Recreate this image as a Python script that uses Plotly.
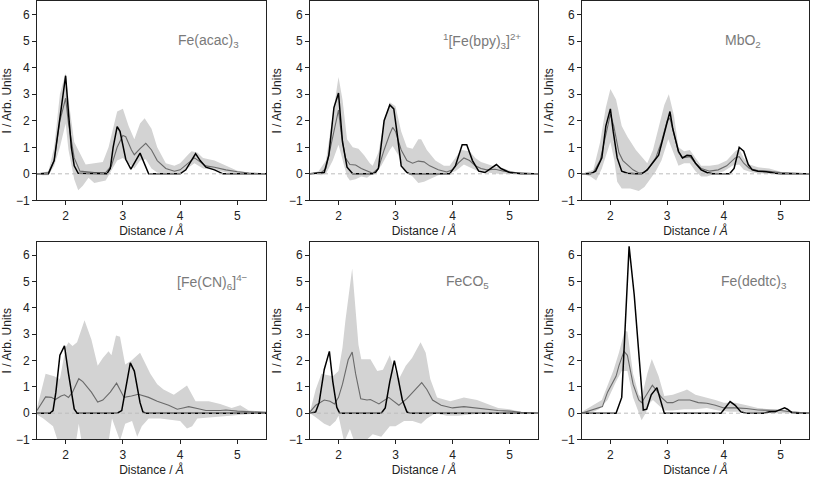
import plotly.graph_objects as go

# ---------------- data ----------------
names = ["Fe(acac)<sub>3</sub>", "<sup>1</sup>[Fe(bpy)<sub>3</sub>]<sup>2+</sup>", "MbO<sub>2</sub>",
         "[Fe(CN)<sub>6</sub>]<sup>4\u2212</sup>", "FeCO<sub>5</sub>", "Fe(dedtc)<sub>3</sub>"]
label_x = [4.5, 4.52, 4.33, 4.57, 4.27, 4.53]

# Panel 1: Fe(acac)3
p1_true_x = [1.5, 1.7, 1.8, 1.9, 2.0, 2.05, 2.1, 2.15, 2.22, 2.72, 2.78, 2.83, 2.9, 2.95, 3.05, 3.14, 3.3, 3.45, 4.0, 4.1, 4.27, 4.35, 4.45, 4.6, 4.75, 5.5]
p1_true_y = [0, 0, 0.5, 2.2, 3.7, 2.3, 1.0, 0.3, 0.02, 0, 0.2, 1.0, 1.78, 1.6, 0.55, 0.18, 0.78, 0, 0, 0.15, 0.76, 0.5, 0.25, 0.15, 0, 0]
p1_mean_x = [1.5, 1.7, 1.8, 1.9, 2.0, 2.05, 2.15, 2.25, 2.5, 2.7, 2.8, 2.9, 3.0, 3.05, 3.15, 3.2, 3.3, 3.4, 3.5, 3.6, 3.75, 3.9, 4.0, 4.15, 4.25, 4.35, 4.45, 4.6, 4.8, 5.0, 5.2, 5.5]
p1_mean_y = [0, 0.05, 0.5, 2.0, 2.85, 1.9, 0.6, 0.1, 0.05, 0.05, 0.3, 1.0, 1.45, 1.4, 0.9, 0.72, 0.95, 1.15, 0.9, 0.5, 0.2, 0.1, 0.15, 0.4, 0.6, 0.45, 0.3, 0.25, 0.15, 0.08, 0.03, 0]
p1_hi_x = [1.5, 1.7, 1.8, 1.9, 2.0, 2.05, 2.15, 2.35, 2.5, 2.65, 2.75, 2.9, 3.0, 3.1, 3.2, 3.3, 3.38, 3.5, 3.6, 3.75, 3.9, 4.0, 4.15, 4.2, 4.3, 4.4, 4.6, 4.8, 5.0, 5.2, 5.5]
p1_hi_y = [0, 0.1, 1.0, 3.0, 3.8, 2.8, 1.2, 0.35, 0.4, 0.45, 1.0, 2.35, 2.45, 1.8, 1.3, 1.9, 2.1, 1.7, 1.0, 0.4, 0.3, 0.4, 0.75, 0.85, 0.8, 0.6, 0.5, 0.3, 0.12, 0.05, 0]
p1_lo_x = [1.5, 1.6, 1.7, 1.8, 1.9, 2.0, 2.05, 2.15, 2.22, 2.3, 2.4, 2.5, 2.6, 2.7, 2.8, 2.9, 3.0, 3.1, 3.2, 3.3, 3.4, 3.5, 3.6, 3.75, 4.0, 4.15, 4.25, 4.4, 4.6, 4.8, 5.0, 5.5]
p1_lo_y = [0, -0.05, -0.05, 0.3, 1.0, 1.9, 0.9, -0.2, -0.62, -0.45, -0.15, -0.35, -0.3, -0.25, 0.1, 0.5, 0.6, 0.4, 0.2, 0.5, 0.55, 0.2, 0.05, 0, 0, 0.25, 0.4, 0.2, 0.15, 0.05, 0, 0]

# Panel 2: 1[Fe(bpy)3]2+
p2_true_x = [1.5, 1.75, 1.83, 1.92, 2.0, 2.07, 2.15, 2.25, 2.6, 2.65, 2.7, 2.8, 2.9, 2.97, 3.03, 3.1, 3.2, 3.25, 3.95, 4.05, 4.17, 4.25, 4.35, 4.46, 4.57, 4.77, 4.85, 5.0, 5.2, 5.5]
p2_true_y = [0, 0.05, 0.7, 2.5, 3.05, 1.2, 0.25, 0, 0, 0.05, 0.2, 2.0, 2.6, 2.45, 1.5, 0.3, 0.05, 0, 0, 0.3, 1.1, 1.1, 0.5, 0.1, 0.05, 0.35, 0.2, 0.05, 0, 0]
p2_mean_x = [1.5, 1.7, 1.78, 1.88, 2.0, 2.05, 2.12, 2.2, 2.3, 2.4, 2.5, 2.6, 2.7, 2.8, 2.9, 2.95, 3.0, 3.1, 3.2, 3.3, 3.4, 3.5, 3.6, 3.75, 3.9, 4.0, 4.1, 4.2, 4.3, 4.4, 4.5, 4.6, 4.75, 4.9, 5.1, 5.5]
p2_mean_y = [0, 0.05, 0.2, 1.2, 2.4, 1.5, 0.6, 0.35, 0.33, 0.2, 0.1, 0.02, 0.2, 0.9, 1.5, 1.75, 1.6, 0.9, 0.5, 0.4, 0.48, 0.45, 0.3, 0.15, 0.07, 0.15, 0.4, 0.6, 0.5, 0.3, 0.2, 0.15, 0.17, 0.1, 0.05, 0]
p2_hi_x = [1.5, 1.65, 1.78, 1.88, 2.0, 2.07, 2.15, 2.25, 2.35, 2.45, 2.55, 2.6, 2.7, 2.8, 2.9, 3.0, 3.1, 3.2, 3.3, 3.4, 3.45, 3.55, 3.7, 3.85, 3.95, 4.05, 4.15, 4.3, 4.4, 4.5, 4.7, 4.9, 5.1, 5.3, 5.5]
p2_hi_y = [0, 0.1, 0.5, 2.0, 3.65, 2.8, 1.3, 1.0, 0.95, 0.7, 0.4, 0.3, 0.8, 2.0, 2.7, 2.55, 1.6, 1.0, 0.95, 1.3, 1.3, 0.9, 0.5, 0.3, 0.3, 0.6, 0.9, 0.85, 0.6, 0.45, 0.3, 0.2, 0.05, 0, 0]
p2_lo_x = [1.5, 1.7, 1.78, 1.9, 2.0, 2.07, 2.15, 2.2, 2.3, 2.4, 2.5, 2.6, 2.75, 2.9, 2.95, 3.05, 3.15, 3.3, 3.4, 3.5, 3.6, 3.75, 3.9, 4.05, 4.2, 4.3, 4.45, 4.6, 4.8, 5.5]
p2_lo_y = [0, -0.05, 0, 0.5, 1.1, 0.5, -0.1, -0.25, -0.2, -0.1, -0.15, 0, 0.3, 0.9, 1.05, 0.7, 0.1, -0.1, -0.35, -0.3, -0.2, -0.05, 0, 0.1, 0.35, 0.25, 0.1, 0.05, 0, 0]

# Panel 3: MbO2
p3_true_x = [1.5, 1.65, 1.74, 1.85, 1.92, 2.0, 2.05, 2.12, 2.2, 2.3, 2.45, 2.55, 2.65, 2.77, 2.85, 3.05, 3.1, 3.2, 3.27, 3.35, 3.42, 3.5, 3.6, 3.7, 3.8, 4.1, 4.18, 4.27, 4.35, 4.43, 4.5, 4.6, 4.75, 4.9, 5.0, 5.5]
p3_true_y = [0, 0, 0.1, 0.6, 1.8, 2.45, 1.6, 0.6, 0.1, 0.02, 0, 0, 0.15, 0.5, 0.7, 2.35, 1.7, 0.85, 0.6, 0.7, 0.68, 0.4, 0.15, 0.05, 0, 0, 0.2, 1.0, 0.85, 0.35, 0.15, 0.1, 0.08, 0.02, 0, 0]
p3_mean_x = [1.5, 1.7, 1.82, 1.92, 2.0, 2.06, 2.15, 2.22, 2.3, 2.4, 2.5, 2.6, 2.7, 2.8, 2.9, 3.0, 3.05, 3.12, 3.2, 3.27, 3.4, 3.5, 3.6, 3.75, 3.9, 4.05, 4.2, 4.27, 4.35, 4.45, 4.6, 4.75, 5.0, 5.5]
p3_mean_y = [0, 0.05, 0.5, 1.5, 2.25, 1.8, 0.8, 0.5, 0.35, 0.15, 0.03, 0.05, 0.3, 0.6, 1.2, 2.0, 2.1, 1.5, 0.8, 0.6, 0.65, 0.4, 0.2, 0.1, 0.15, 0.3, 0.6, 0.65, 0.4, 0.2, 0.12, 0.1, 0.05, 0]
p3_hi_x = [1.5, 1.7, 1.82, 1.92, 2.0, 2.1, 2.2, 2.3, 2.45, 2.6, 2.65, 2.75, 2.85, 2.95, 3.03, 3.12, 3.2, 3.3, 3.4, 3.5, 3.6, 3.75, 3.9, 4.05, 4.2, 4.27, 4.35, 4.45, 4.6, 4.8, 5.0, 5.3, 5.5]
p3_hi_y = [0, 0.15, 1.2, 2.5, 3.2, 2.8, 1.8, 1.4, 0.9, 0.5, 0.4, 0.9, 1.8, 2.6, 3.0, 2.2, 1.0, 0.85, 0.9, 0.6, 0.3, 0.3, 0.35, 0.5, 0.85, 0.95, 0.6, 0.35, 0.25, 0.2, 0.08, 0, 0]
p3_lo_x = [1.5, 1.65, 1.75, 1.85, 2.0, 2.07, 2.12, 2.2, 2.35, 2.5, 2.6, 2.7, 2.8, 2.9, 3.02, 3.1, 3.2, 3.3, 3.4, 3.5, 3.6, 3.7, 3.85, 4.0, 4.15, 4.27, 4.35, 4.5, 4.7, 5.5]
p3_lo_y = [0, -0.1, -0.25, 0.2, 1.2, 0.5, -0.3, -0.55, -0.55, -0.65, -0.5, -0.2, 0.1, 0.5, 1.3, 0.9, 0.3, 0.4, 0.4, 0.1, -0.1, -0.1, 0, 0.1, 0.3, 0.35, 0.15, 0.05, 0, 0]

# Panel 4: [Fe(CN)6]4-
p4_true_x = [1.5, 1.73, 1.78, 1.83, 1.9, 1.98, 2.05, 2.15, 2.2, 2.9, 2.98, 3.05, 3.13, 3.2, 3.3, 3.35, 3.4, 5.5]
p4_true_y = [0, 0, 0.1, 0.8, 2.2, 2.56, 1.5, 0.16, 0, 0, 0.1, 1.0, 1.91, 1.6, 0.4, 0.05, 0, 0]
p4_mean_x = [1.5, 1.65, 1.75, 1.82, 1.92, 1.98, 2.05, 2.12, 2.23, 2.3, 2.45, 2.56, 2.65, 2.78, 2.89, 3.02, 3.15, 3.27, 3.45, 3.6, 3.8, 3.95, 4.05, 4.15, 4.3, 4.45, 4.7, 4.8, 5.0, 5.2, 5.5]
p4_mean_y = [0.1, 0.62, 0.6, 0.52, 0.65, 0.7, 0.6, 0.8, 1.31, 1.2, 0.8, 0.42, 0.5, 0.8, 1.14, 0.6, 0.65, 0.72, 0.6, 0.45, 0.3, 0.15, 0.2, 0.25, 0.18, 0.1, 0.1, 0.12, 0.08, 0.06, 0.03]
p4_hi_x = [1.5, 1.65, 1.8, 1.9, 2.0, 2.05, 2.12, 2.2, 2.33, 2.45, 2.56, 2.65, 2.75, 2.8, 2.88, 2.95, 3.04, 3.15, 3.3, 3.48, 3.6, 3.71, 3.89, 4.12, 4.27, 4.5, 4.7, 4.9, 5.05, 5.2, 5.5]
p4_hi_y = [0.2, 1.5, 1.4, 1.3, 2.5, 2.7, 2.55, 2.7, 3.53, 2.8, 1.8, 2.1, 2.35, 2.2, 2.95, 2.9, 1.85, 2.0, 2.3, 1.5, 1.1, 0.9, 0.7, 1.05, 0.45, 0.45, 0.35, 0.2, 0.3, 0.1, 0.05]
p4_lo_x = [1.5, 1.61, 1.78, 1.87, 2.18, 2.23, 2.28, 2.75, 2.81, 2.95, 3.04, 3.16, 3.25, 3.33, 3.45, 3.65, 3.83, 4.0, 4.12, 4.21, 4.3, 4.47, 4.82, 5.18, 5.5]
p4_lo_y = [-0.05, -0.2, -0.5, -1.1, -1.1, -0.4, -1.1, -1.1, -0.2, -1.05, -0.4, -0.3, -0.9, -0.5, -0.2, -0.2, -0.25, -0.3, -0.58, -0.5, -0.2, -0.15, -0.1, -0.04, 0]

# Panel 5: FeCO5
p5_true_x = [1.5, 1.6, 1.66, 1.75, 1.84, 1.9, 1.97, 2.02, 2.75, 2.82, 2.9, 2.98, 3.03, 3.12, 3.2, 3.25, 5.5]
p5_true_y = [0, 0.05, 0.4, 1.66, 2.35, 1.2, 0.22, 0, 0, 0.2, 1.2, 2.0, 1.5, 0.5, 0.05, 0, 0]
p5_mean_x = [1.5, 1.6, 1.75, 1.85, 1.93, 2.0, 2.07, 2.17, 2.24, 2.3, 2.39, 2.5, 2.56, 2.71, 2.88, 3.06, 3.2, 3.3, 3.46, 3.55, 3.65, 3.8, 4.0, 4.2, 4.4, 4.6, 4.8, 5.0, 5.2, 5.5]
p5_mean_y = [0.05, 0.3, 0.5, 0.45, 0.35, 0.6, 1.1, 2.03, 2.32, 1.5, 0.55, 0.5, 0.52, 0.35, 0.6, 0.3, 0.55, 0.8, 1.16, 0.9, 0.5, 0.3, 0.2, 0.25, 0.2, 0.15, 0.1, 0.08, 0.03, 0]
p5_hi_x = [1.5, 1.6, 1.7, 1.9, 2.0, 2.07, 2.12, 2.24, 2.35, 2.4, 2.56, 2.68, 2.78, 2.9, 2.97, 3.06, 3.18, 3.29, 3.44, 3.53, 3.61, 3.73, 3.96, 4.2, 4.43, 4.6, 4.8, 5.0, 5.2, 5.5]
p5_hi_y = [0.05, 0.9, 1.5, 1.4, 1.6, 2.5, 3.5, 5.5, 2.6, 2.05, 2.05, 1.6, 1.65, 2.2, 1.7, 1.3, 1.8, 2.1, 2.7, 2.3, 1.3, 0.6, 0.45, 0.6, 0.5, 0.35, 0.2, 0.15, 0.05, 0]
p5_lo_x = [1.5, 1.6, 1.75, 1.85, 1.95, 2.0, 2.1, 2.2, 2.28, 2.45, 2.6, 2.75, 2.9, 3.0, 3.15, 3.3, 3.45, 3.55, 3.7, 3.9, 4.1, 4.3, 4.6, 5.5]
p5_lo_y = [0, -0.15, -0.4, -0.5, -0.3, -0.1, -1.1, -0.6, -1.1, -1.1, -0.8, -0.9, -0.5, -0.5, -0.3, -0.3, -0.4, -0.2, 0, -0.1, -0.1, -0.05, 0, 0]

# Panel 6: Fe(dedtc)3
p6_true_x = [1.5, 2.1, 2.2, 2.33, 2.42, 2.58, 2.64, 2.72, 2.82, 2.88, 2.95, 3.95, 4.05, 4.11, 4.2, 4.3, 4.4, 4.7, 4.8, 4.9, 5.07, 5.12, 5.2, 5.3, 5.5]
p6_true_y = [0, 0, 0.6, 6.34, 4.5, 0.12, 0.15, 0.7, 0.97, 0.5, 0, 0, 0.25, 0.44, 0.3, 0.05, 0, 0, 0.05, 0.05, 0.2, 0.15, 0.02, 0, 0]
p6_mean_x = [1.5, 1.7, 1.86, 1.95, 2.1, 2.15, 2.24, 2.3, 2.4, 2.5, 2.55, 2.65, 2.74, 2.8, 2.9, 3.0, 3.1, 3.2, 3.4, 3.55, 3.7, 3.85, 4.0, 4.2, 4.4, 4.6, 4.8, 5.0, 5.2, 5.5]
p6_mean_y = [0, 0.15, 0.25, 0.8, 1.4, 1.8, 2.35, 2.2, 1.1, 0.5, 0.4, 0.75, 1.06, 0.9, 0.6, 0.4, 0.4, 0.5, 0.5, 0.4, 0.38, 0.3, 0.2, 0.2, 0.18, 0.12, 0.1, 0.1, 0.05, 0]
p6_hi_x = [1.5, 1.7, 1.85, 2.05, 2.15, 2.25, 2.3, 2.4, 2.5, 2.55, 2.65, 2.73, 2.85, 2.95, 3.1, 3.3, 3.35, 3.5, 3.7, 3.85, 4.0, 4.2, 4.4, 4.6, 4.8, 5.0, 5.2, 5.5]
p6_hi_y = [0.05, 0.3, 0.5, 1.6, 2.3, 3.12, 3.1, 1.5, 0.7, 0.6, 1.5, 2.06, 1.4, 0.65, 0.7, 0.85, 0.9, 0.7, 0.6, 0.5, 0.4, 0.4, 0.3, 0.2, 0.15, 0.15, 0.05, 0]
p6_lo_x = [1.5, 1.7, 1.8, 1.95, 2.1, 2.2, 2.3, 2.4, 2.55, 2.62, 2.7, 2.75, 2.85, 2.95, 3.1, 3.3, 3.5, 3.7, 3.9, 4.1, 4.4, 4.6, 4.8, 5.5]
p6_lo_y = [0, 0.05, 0.15, 0.5, 1.2, 1.6, 1.6, 0.6, -0.27, 0, 0.4, 0.5, 0.3, 0.1, 0.1, 0.15, 0.15, 0.2, 0.1, 0.05, 0.05, 0.02, 0, 0]

x_ticks = [2, 3, 4, 5]
y_ticks = [-1, 0, 1, 2, 3, 4, 5, 6]
x_range = [1.5, 5.5]
y_range = [-1, 6.5]

panels = [
    (p1_true_x, p1_true_y, p1_mean_x, p1_mean_y, p1_hi_x, p1_hi_y, p1_lo_x, p1_lo_y),
    (p2_true_x, p2_true_y, p2_mean_x, p2_mean_y, p2_hi_x, p2_hi_y, p2_lo_x, p2_lo_y),
    (p3_true_x, p3_true_y, p3_mean_x, p3_mean_y, p3_hi_x, p3_hi_y, p3_lo_x, p3_lo_y),
    (p4_true_x, p4_true_y, p4_mean_x, p4_mean_y, p4_hi_x, p4_hi_y, p4_lo_x, p4_lo_y),
    (p5_true_x, p5_true_y, p5_mean_x, p5_mean_y, p5_hi_x, p5_hi_y, p5_lo_x, p5_lo_y),
    (p6_true_x, p6_true_y, p6_mean_x, p6_mean_y, p6_hi_x, p6_hi_y, p6_lo_x, p6_lo_y),
]

# ---------------- layout ----------------
W, H = 813, 480
x_doms = [[37 / W, 266 / W], [310 / W, 538 / W], [582 / W, 809 / W]]
y_doms = [[1 - 203.3 / H, 1 - 1.5 / H], [1 - 446 / H, 1 - 245.7 / H]]

FONT = "Liberation Sans, Arial, Helvetica, sans-serif"
fig = go.Figure()

for i, (tx, ty, mx, my, hx, hy, lx, ly) in enumerate(panels):
    k = i + 1
    xa = "x" if k == 1 else f"x{k}"
    ya = "y" if k == 1 else f"y{k}"
    fig.add_trace(go.Scatter(x=list(hx) + list(lx)[::-1], y=list(hy) + list(ly)[::-1],
                             fill="toself", fillcolor="#d3d3d3", line=dict(width=0),
                             mode="lines", xaxis=xa, yaxis=ya, hoverinfo="skip"))
    fig.add_trace(go.Scatter(x=mx, y=my, mode="lines", line=dict(color="#6a6a6a", width=1.1),
                             xaxis=xa, yaxis=ya))
    fig.add_trace(go.Scatter(x=tx, y=ty, mode="lines", line=dict(color="black", width=1.5),
                             xaxis=xa, yaxis=ya))
    fig.add_shape(type="line", xref=xa, yref=ya, x0=x_range[0], x1=x_range[1], y0=0, y1=0,
                  line=dict(color="#bdbdbd", width=1, dash="4px,3px"), layer="above")
    fig.add_annotation(x=label_x[i], y=5.0, xref=xa, yref=ya, text=names[i], showarrow=False,
                       font=dict(size=14, color="#7a7a7a", family=FONT), xanchor="center", yanchor="middle")
    row, col = divmod(i, 3)
    axis_common = dict(showline=True, mirror=True, linecolor="#222", linewidth=1,
                       ticks="outside", ticklen=4, tickwidth=1, tickcolor="#222",
                       showgrid=False, zeroline=False, tickfont=dict(size=12, color="#222", family=FONT))
    fig.layout[f"xaxis{k}"] = dict(domain=x_doms[col], anchor=ya, range=x_range, tickvals=x_ticks,
                                   title=dict(text="Distance / <i>Å</i>", font=dict(size=12, color="#222", family=FONT), standoff=3),
                                   **axis_common)
    fig.layout[f"yaxis{k}"] = dict(domain=y_doms[row], anchor=xa, range=y_range, tickvals=y_ticks,
                                   title=dict(text="I / Arb. Units", font=dict(size=12, color="#222", family=FONT), standoff=4),
                                   **axis_common)

fig.update_layout(width=W, height=H, margin=dict(l=0, r=0, t=0, b=0), showlegend=False,
                  paper_bgcolor="white", plot_bgcolor="white", font=dict(family=FONT))
fig.write_html("out.html", config={"displayModeBar": False},
               post_script="document.body.style.margin='0';document.body.style.padding='0';")
